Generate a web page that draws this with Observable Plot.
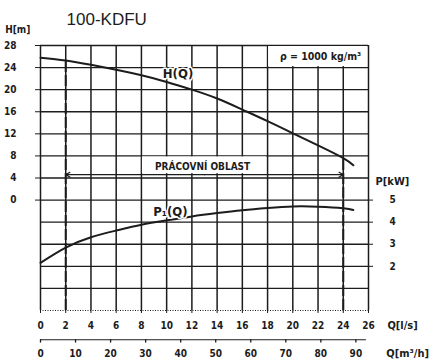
<!DOCTYPE html>
<html>
<head>
<meta charset="utf-8">
<script src="https://cdn.jsdelivr.net/npm/d3@7"></script>
<script src="https://cdn.jsdelivr.net/npm/@observablehq/plot@0.6"></script>
<style>
  html, body { margin: 0; padding: 0; background: #fff; }
</style>
</head>
<body>
<div id="chart"></div>
<script>
// ---- data ----
const titleText = "100-KDFU";
const qTicks = [0, 2, 4, 6, 8, 10, 12, 14, 16, 18, 20, 22, 24, 26];          // Q [l/s]
const hTicks = [28, 24, 20, 16, 12, 8, 4, 0];                                // H [m]
const pTicks = [5, 4, 3, 2];                                                 // P [kW]
const gridLevels = [28, 24, 20, 16, 12, 8, 4, 0, -4, -8, -12, -16];          // horizontal grid (H units)
const m3hTicks = [0, 10, 20, 30, 40, 50, 60, 70, 80, 90];                    // Q [m³/h]
const workRange = [2, 24];                                                   // working range, l/s

const qH = [0, 2, 4, 6, 8, 10, 12, 14, 16, 18, 20, 22, 24, 24.8];
const hValues = [25.8, 25.3, 24.5, 23.6, 22.6, 21.4, 20.0, 18.4, 16.4, 14.3, 12.1, 9.9, 7.6, 6.3];

const qP = [0, 2, 4, 6, 8, 10, 12, 14, 16, 18, 20, 22, 24, 24.8];
const pValues = [2.16, 2.85, 3.32, 3.62, 3.88, 4.08, 4.26, 4.41, 4.54, 4.64, 4.71, 4.70, 4.63, 4.55];

// P [kW] shares the plot with H [m]: H = 4·(P − 5)
const pToH = p => 4 * (p - 5);
const hToP = h => h / 4 + 5;
const m3hToQ = v => v / 3.6;

const hData = qH.map((q, i) => ({q, h: hValues[i]}));
const pData = qP.map((q, i) => ({q, h: pToH(pValues[i])}));
const hAt = q => hValues[qH.indexOf(q)];

const ink = "#1c1c1c";
const narrow = "'DejaVu Sans Condensed', 'Liberation Sans Narrow', 'Arial Narrow', 'DejaVu Sans', sans-serif";
const arrowLevel = 4.6;
const m3hLevel = -25.3;

const chart = Plot.plot({
  width: 429,
  height: 360,
  marginLeft: 40,
  marginRight: 61,
  marginTop: 45,
  marginBottom: 50,
  style: {background: "#fff", color: ink, fontFamily: narrow, fontSize: "10px", overflow: "visible"},
  x: {domain: [0, 26], axis: null},
  y: {domain: [-20, 28], axis: null},
  marks: [
    // grid
    Plot.ruleY(gridLevels, {x1: 0, x2: 26, stroke: ink, strokeWidth: 1.4}),
    Plot.ruleY([-20], {x1: 0, x2: 26, stroke: ink, strokeWidth: 1.2, strokeDasharray: "1,1.5"}),
    Plot.ruleX(qTicks, {y1: -20, y2: 28, stroke: ink, strokeWidth: 1.5}),

    // white label boxes cut out of the grid
    Plot.rect([0], {x1: 18, x2: 26, y1: 24, y2: 28, fill: "white", inset: 1}),
    Plot.rect([0], {x1: 8, x2: 18, y1: arrowLevel, y2: 8, fill: "white", inset: 1}),

    // axes
    Plot.axisY({anchor: "left", ticks: hTicks, tickSize: 5, tickPadding: 19, stroke: ink,
      fontWeight: "bold", fontSize: 10, label: null}),
    Plot.axisY({anchor: "right", ticks: pTicks.map(pToH), tickFormat: hToP, tickSize: 4, tickPadding: 17,
      stroke: ink, fontWeight: "bold", fontSize: 10, label: null}),
    Plot.axisX({anchor: "bottom", ticks: qTicks, tickSize: 3, tickPadding: 8, stroke: ink,
      fontWeight: "bold", fontSize: 10, label: null}),

    // second Q axis in m³/h
    Plot.ruleY([m3hLevel], {x1: 0, x2: m3hToQ(93), stroke: ink, strokeWidth: 1.2}),
    Plot.ruleX(m3hTicks, {x: m3hToQ, y1: m3hLevel, y2: m3hLevel - 0.6, stroke: ink, strokeWidth: 1.3}),
    Plot.text(m3hTicks, {x: m3hToQ, y: m3hLevel, dy: 14, text: d => String(d), fontWeight: "bold", fontSize: 10, fill: ink}),

    // working range
    Plot.ruleX(workRange, {y1: -20, y2: hAt, stroke: ink, strokeWidth: 2, strokeDasharray: "11,3"}),
    Plot.arrow([workRange[0], workRange[1]], {
      x1: (workRange[0] + workRange[1]) / 2, x2: d => d, y1: arrowLevel, y2: arrowLevel,
      stroke: ink, strokeWidth: 1.2, headLength: 6
    }),
    Plot.text(["PRÁCOVNÍ OBLAST"], {x: 12.85, y: 6.0, text: d => d, fontWeight: "bold", fontSize: 10, fill: ink}),

    // curves
    Plot.line(hData, {x: "q", y: "h", curve: "natural", stroke: ink, strokeWidth: 2}),
    Plot.line(pData, {x: "q", y: "h", curve: "natural", stroke: ink, strokeWidth: 2}),

    // labels
    Plot.text(["H(Q)"], {x: 10.9, y: 22.9, text: d => d, fontSize: 13, fontWeight: 600, fill: ink, stroke: "white", strokeWidth: 3, paintOrder: "stroke"}),
    Plot.text(["P₁(Q)"], {x: 10.3, y: -2.1, text: d => d, fontSize: 13, fontWeight: 600, fill: ink, stroke: "white", strokeWidth: 3, paintOrder: "stroke"}),
    Plot.text(["ρ = 1000 kg/m³"], {x: 22.2, y: 25.9, text: d => d, fontWeight: "bold", fontSize: 10.5, fill: ink}),
    Plot.text([titleText], {x: 5.25, y: 32.7, text: d => d, fontFamily: "'Liberation Sans', Arial, sans-serif", fontSize: 17, fill: ink}),
    Plot.text(["H[m]"], {x: -1.8, y: 30.9, text: d => d, fontWeight: "bold", fontSize: 10, fill: ink}),
    Plot.text(["P[kW]"], {x: 27.9, y: 3.4, text: d => d, fontWeight: "bold", fontSize: 11, fill: ink}),
    Plot.text(["Q[l/s]"], {x: 28.7, y: -20, dy: 15, text: d => d, fontWeight: "bold", fontSize: 11, fill: ink}),
    Plot.text(["Q[m³/h]"], {x: 29.1, y: m3hLevel, dy: 14, text: d => d, fontWeight: "bold", fontSize: 11, fill: ink})
  ]
});
document.getElementById("chart").appendChild(chart);
</script>
</body>
</html>
